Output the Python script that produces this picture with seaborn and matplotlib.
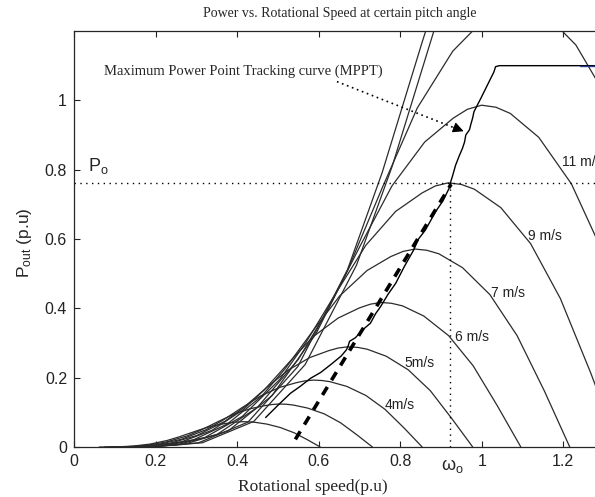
import pandas as pd
import seaborn as sns
import matplotlib
matplotlib.use('Agg')
import matplotlib.pyplot as plt

# Power curves (one list pair per wind speed)
w1_x = [0.062, 0.104, 0.145, 0.187, 0.228, 0.257, 0.291, 0.324, 0.357, 0.386, 0.400, 0.415, 0.430, 0.444, 0.473, 0.506, 0.540, 0.573, 0.604]
w1_y = [0, 0.0004, 0.0026, 0.0085, 0.0187, 0.0289, 0.0426, 0.0558, 0.0651, 0.0702, 0.0721, 0.073, 0.0726, 0.0712, 0.0661, 0.0562, 0.0410, 0.0206, 0]
w2_x = [0.075, 0.126, 0.176, 0.226, 0.277, 0.312, 0.352, 0.392, 0.433, 0.468, 0.485, 0.503, 0.521, 0.538, 0.573, 0.614, 0.654, 0.694, 0.732]
w2_y = [0, 0.0007, 0.0045, 0.0144, 0.0317, 0.0491, 0.0724, 0.0947, 0.1106, 0.1193, 0.1225, 0.124, 0.1233, 0.1210, 0.1123, 0.0955, 0.0697, 0.0350, 0]
w3_x = [0.088, 0.147, 0.205, 0.264, 0.323, 0.364, 0.411, 0.458, 0.505, 0.546, 0.566, 0.587, 0.608, 0.628, 0.669, 0.716, 0.763, 0.810, 0.854]
w3_y = [0, 0.0012, 0.0069, 0.0224, 0.0494, 0.0764, 0.1127, 0.1475, 0.1722, 0.1857, 0.1907, 0.193, 0.1918, 0.1884, 0.1749, 0.1486, 0.1085, 0.0544, 0]
w4_x = [0.101, 0.168, 0.235, 0.302, 0.370, 0.417, 0.470, 0.524, 0.578, 0.625, 0.648, 0.672, 0.696, 0.719, 0.766, 0.820, 0.874, 0.927, 0.978]
w4_y = [0, 0.0017, 0.0104, 0.0335, 0.0740, 0.1144, 0.1688, 0.2208, 0.2578, 0.2780, 0.2855, 0.289, 0.2873, 0.2821, 0.2618, 0.2225, 0.1624, 0.0815, 0]
w5_x = [0.113, 0.188, 0.264, 0.339, 0.414, 0.467, 0.527, 0.587, 0.648, 0.700, 0.727, 0.753, 0.779, 0.806, 0.858, 0.919, 0.979, 1.039, 1.096]
w5_y = [0, 0.0025, 0.0150, 0.0484, 0.1068, 0.1651, 0.2435, 0.3186, 0.3720, 0.4012, 0.4120, 0.417, 0.4145, 0.4070, 0.3778, 0.3211, 0.2344, 0.1176, 0]
w6_x = [0.125, 0.209, 0.293, 0.376, 0.460, 0.518, 0.585, 0.652, 0.719, 0.777, 0.807, 0.836, 0.865, 0.895, 0.953, 1.020, 1.087, 1.154, 1.216]
w6_y = [0, 0.0034, 0.0206, 0.0662, 0.1462, 0.2261, 0.3335, 0.4362, 0.5093, 0.5493, 0.5641, 0.571, 0.5676, 0.5573, 0.5173, 0.4397, 0.3209, 0.1610, 0]
w7_x = [0.138, 0.230, 0.321, 0.413, 0.505, 0.569, 0.643, 0.716, 0.789, 0.854, 0.886, 0.918, 0.950, 0.982, 1.047, 1.120, 1.193, 1.267, 1.336]
w7_y = [0, 0.0046, 0.0274, 0.0884, 0.1951, 0.3018, 0.4450, 0.5822, 0.6797, 0.7330, 0.7529, 0.762, 0.7574, 0.7437, 0.6904, 0.5867, 0.4282, 0.2149, 0]
w8_x = [0.15, 0.25, 0.35, 0.45, 0.55, 0.62, 0.70, 0.78, 0.86, 0.93, 0.965, 1.00, 1.035, 1.07, 1.14, 1.22, 1.30, 1.38, 1.455]
w8_y = [0, 0.0059, 0.0355, 0.1144, 0.2524, 0.3905, 0.5758, 0.7533, 0.8795, 0.9485, 0.9742, 0.986, 0.9801, 0.9623, 0.8933, 0.7592, 0.5541, 0.2781, 0]
w9_x = [0.162, 0.270, 0.378, 0.486, 0.594, 0.670, 0.756, 0.842, 0.929, 1.004, 1.08, 1.156, 1.231, 1.318, 1.404]
w9_y = [0, 0.0077, 0.0461, 0.1485, 0.3277, 0.5069, 0.7475, 0.9779, 1.1418, 1.2314, 1.28, 1.2493, 1.1597, 0.9856, 0.7194]
w10_x = [0.183, 0.305, 0.427, 0.549, 0.671, 0.756, 0.854, 0.952]
w10_y = [0, 0.012, 0.072, 0.232, 0.512, 0.792, 1.168, 1.528]
w11_x = [0.189, 0.315, 0.441, 0.567, 0.693, 0.781, 0.882, 0.983]
w11_y = [0, 0.0123, 0.0738, 0.2378, 0.5248, 0.8118, 1.1972, 1.5662]

# MPPT tracking trace (thin, jagged) and the ideal optimum line (thick dashed)
mppt_x = [0.47, 0.50, 0.531, 0.555, 0.58, 0.605, 0.629, 0.655, 0.668, 0.672, 0.676, 0.69, 0.71, 0.727,
          0.74, 0.752, 0.77, 0.789, 0.81, 0.833, 0.845, 0.862, 0.887, 0.905, 0.92, 0.924, 0.928, 0.936,
          0.945, 0.953, 0.958, 0.961, 0.97, 0.973, 0.978, 0.981, 0.998, 1.022, 1.03, 1.034, 1.043, 1.30]
mppt_y = [0.085, 0.12, 0.155, 0.175, 0.198, 0.215, 0.237, 0.262, 0.28, 0.29, 0.305, 0.315, 0.34, 0.357,
          0.385, 0.405, 0.44, 0.472, 0.52, 0.568, 0.60, 0.626, 0.679, 0.71, 0.746, 0.765, 0.78, 0.813,
          0.84, 0.862, 0.88, 0.90, 0.915, 0.929, 0.95, 0.967, 1.006, 1.063, 1.082, 1.097, 1.10, 1.10]
opt_x = [0.543, 0.925]
opt_y = [0.022, 0.758]
rated_x = [1.24, 1.30]
rated_y = [1.10, 1.10]

p_o = 0.762
w_o = 0.923

labels = ['4m/s', '5m/s', '6 m/s', '7 m/s', '9 m/s', '11 m/s']
label_x = [0.762, 0.811, 0.934, 1.024, 1.113, 1.198]
label_y = [0.121, 0.243, 0.317, 0.443, 0.609, 0.821]

xticks = [0, 0.2, 0.4, 0.6, 0.8, 1, 1.2]
yticks = [0, 0.2, 0.4, 0.6, 0.8, 1]

sns.set_theme(style='ticks', rc={'xtick.direction': 'in', 'ytick.direction': 'in',
                                 'xtick.top': True, 'axes.linewidth': 0.9})
plt.rcParams['font.family'] = ['Liberation Sans', 'DejaVu Sans']
plt.rcParams['mathtext.fontset'] = 'custom'
plt.rcParams['mathtext.rm'] = 'Liberation Sans'
plt.rcParams['mathtext.it'] = 'Liberation Sans:italic'
plt.rcParams['mathtext.default'] = 'regular'

curves = [(w1_x, w1_y), (w2_x, w2_y), (w3_x, w3_y), (w4_x, w4_y), (w5_x, w5_y), (w6_x, w6_y),
          (w7_x, w7_y), (w8_x, w8_y), (w9_x, w9_y), (w10_x, w10_y), (w11_x, w11_y)]
df = pd.concat([pd.DataFrame({'speed': cx, 'power': cy, 'curve': i}) for i, (cx, cy) in enumerate(curves)],
               ignore_index=True)

fig = plt.figure(figsize=(5.95, 4.97), dpi=100)
ax = fig.add_axes([74 / 595, 50 / 497, 530 / 595, 416 / 497])

sns.lineplot(data=df, x='speed', y='power', units='curve', estimator=None, sort=False,
             color='#2b2b2b', lw=0.9, legend=False, ax=ax)

ax.plot(mppt_x, mppt_y, color='black', lw=1.0)
ax.plot(rated_x, rated_y, color='#2a3a8c', lw=1.0)
ax.plot(opt_x, opt_y, color='black', lw=2.6, dashes=(2.6, 2.2))

# P_o / w_o reference lines
ax.axhline(p_o, color='black', lw=1.0, dashes=(1, 3.2))
ax.plot([w_o, w_o], [0, p_o], color='black', lw=1.0, dashes=(1, 3.2))

ax.set_xlim(0, 1.3)
ax.set_ylim(0, 1.2)
ax.set_xticks(xticks)
ax.set_xticklabels(['0', '0.2', '0.4', '0.6', '0.8', '1', '1.2'])
ax.set_yticks(yticks)
ax.set_yticklabels(['0', '0.2', '0.4', '0.6', '0.8', '1'])
ax.tick_params(labelsize=11.5, length=4, width=0.8, colors='#222222', pad=5)
ax.set_xlabel('')
ax.set_ylabel('')

for t, lx, ly in zip(labels, label_x, label_y):
    ax.text(lx, ly, t, fontsize=10, ha='left', va='center', color='#222222')

ax.text(0.034, 0.81, r'P$_\mathrm{o}$', fontsize=13, ha='left', va='center')
ax.annotate('ω$_\mathrm{o}$', xy=(0.929, 0), xycoords=('data', 'axes fraction'),
            xytext=(0, -14), textcoords='offset points', fontsize=13, ha='center', va='center')

# MPPT annotation with dotted arrow
ax.text(0.415, 1.085, 'Maximum Power Point Tracking curve (MPPT)', fontsize=10.5,
        family='Liberation Serif', ha='center', va='center')
ax.plot([0.645, 0.93], [1.054, 0.922], color='black', lw=1.2, dashes=(1, 2.2))
ax.annotate('', xy=(0.962, 0.908), xytext=(0.925, 0.925),
            arrowprops=dict(arrowstyle='-|>', color='black', lw=0.8, mutation_scale=16))

fig.text(340 / 595, 1 - 14 / 497, 'Power vs. Rotational Speed at certain pitch angle',
         fontsize=10, family='Liberation Serif', ha='center', va='center')
fig.text(313 / 595, 1 - 487 / 497, 'Rotational speed(p.u)', fontsize=12.5,
         family='Liberation Serif', ha='center', va='center')
fig.text(25 / 595, 1 - 243 / 497, r'P$_\mathrm{out}$ (p.u)', fontsize=12.5,
         rotation=90, ha='center', va='center')

fig.savefig('out.png', dpi=100)
